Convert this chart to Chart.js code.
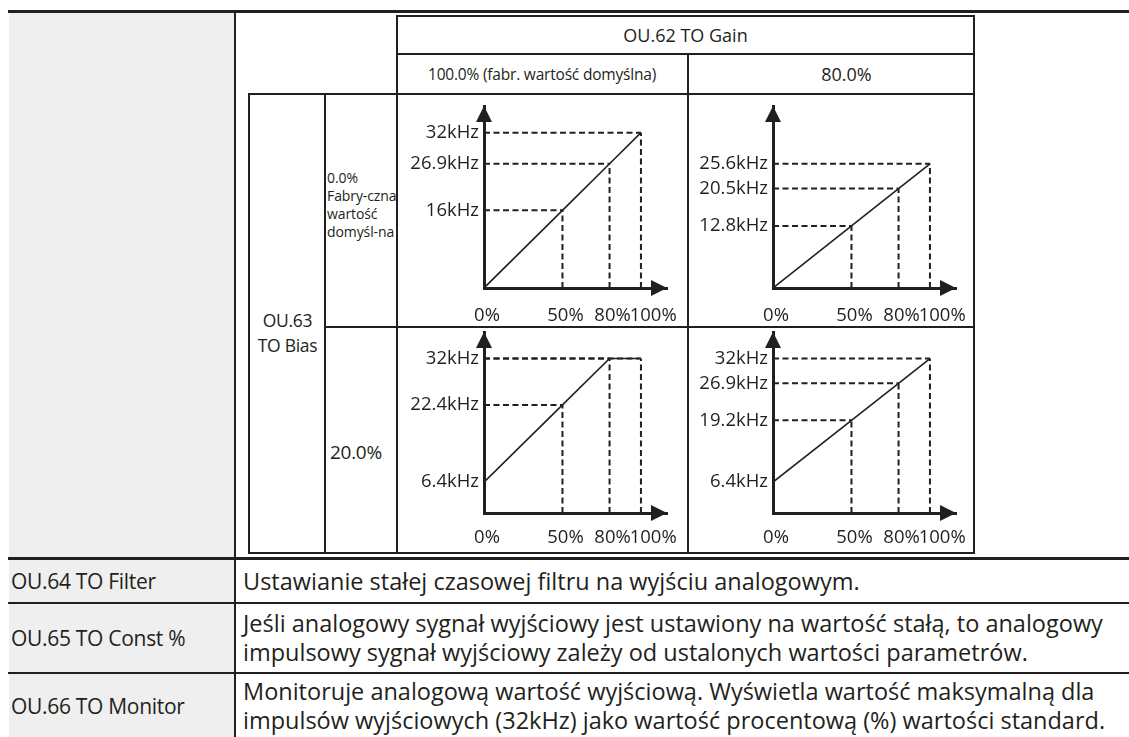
<!DOCTYPE html>
<html>
<head>
<meta charset="utf-8">
<script src="https://cdn.jsdelivr.net/npm/chart.js@4.4.0/dist/chart.umd.min.js"></script>
<style>
  body { margin: 0; width: 1129px; height: 737px; overflow: hidden; background: #fff;
         font-family: "Open Sans", sans-serif; color: #231f20; position: relative; }
  .ln { position: absolute; background: #231f20; }
  .box { position: absolute; box-sizing: border-box; border: 2px solid #231f20; }
  .cell { position: absolute; box-sizing: border-box; display: flex; align-items: center; white-space: nowrap; }
  .center { justify-content: center; text-align: center; }
  .lbl { font-size: 21px; letter-spacing: -0.3px; }
  .txt { font-size: 23.5px; line-height: 29px; }
  canvas { position: absolute; }
</style>
</head>
<body>
<!-- grey label column -->
<div style="position:absolute;left:9px;top:12px;width:226px;height:725px;background:#efefef"></div>

<!-- outer table rules -->
<div class="ln" style="left:8px;top:10px;width:1121px;height:3px"></div>
<div class="ln" style="left:234px;top:12px;width:2px;height:725px"></div>
<div class="ln" style="left:8px;top:557px;width:1121px;height:3px"></div>
<div class="ln" style="left:8px;top:602px;width:1121px;height:2px"></div>
<div class="ln" style="left:8px;top:672px;width:1121px;height:2px"></div>

<!-- inner table -->
<div class="box" style="left:396px;top:15px;width:579px;height:80px"></div>
<div class="ln" style="left:396px;top:53px;width:579px;height:2px"></div>
<div class="box" style="left:248px;top:93px;width:727px;height:461px"></div>
<div class="ln" style="left:324px;top:94px;width:2px;height:459px"></div>
<div class="ln" style="left:396px;top:94px;width:2px;height:459px"></div>
<div class="ln" style="left:687px;top:54px;width:2px;height:499px"></div>
<div class="ln" style="left:325px;top:326px;width:650px;height:2px"></div>

<div class="cell center" style="left:396px;top:15px;width:579px;height:39px;font-size:18px">OU.62 TO Gain</div>
<div class="cell center" style="left:396px;top:54px;width:292px;height:40px;font-size:15.5px;letter-spacing:-0.2px">100.0% (fabr. wartość domyślna)</div>
<div class="cell center" style="left:688px;top:54px;width:287px;height:40px;font-size:18px;padding-left:30px">80.0%</div>
<div class="cell center" style="left:250px;top:94px;width:75px;height:459px;font-size:17.5px;line-height:25px;padding-top:18px;letter-spacing:-0.3px">OU.63<br>TO Bias</div>
<div class="cell" style="left:327px;top:94px;width:69px;height:233px;font-size:14px;line-height:18px;padding-bottom:12px;letter-spacing:-0.1px">0.0%<br>Fabry-czna<br>wartość<br>domyśl-na</div>
<div class="cell" style="left:330px;top:327px;width:66px;height:226px;font-size:19px;padding-top:24px;letter-spacing:-0.3px">20.0%</div>

<canvas id="chartA" width="290" height="231" style="left:397px;top:95px"></canvas>
<canvas id="chartB" width="284" height="231" style="left:690px;top:95px"></canvas>
<canvas id="chartC" width="290" height="223" style="left:397px;top:329px"></canvas>
<canvas id="chartD" width="284" height="223" style="left:690px;top:329px"></canvas>

<!-- lower rows -->
<div class="cell lbl" style="left:11px;top:560px;width:220px;height:42px">OU.64 TO Filter</div>
<div class="cell txt" style="left:243px;top:560px;width:880px;height:42px">Ustawianie stałej czasowej filtru na wyjściu analogowym.</div>
<div class="cell lbl" style="left:11px;top:604px;width:220px;height:68px">OU.65 TO Const %</div>
<div class="cell txt" style="left:243px;top:604px;width:885px;height:68px">Jeśli analogowy sygnał wyjściowy jest ustawiony na wartość stałą, to analogowy<br>impulsowy sygnał wyjściowy zależy od ustalonych wartości parametrów.</div>
<div class="cell lbl" style="left:11px;top:674px;width:220px;height:63px">OU.66 TO Monitor</div>
<div class="cell txt" style="left:243px;top:674px;width:885px;height:63px">Monitoruje analogową wartość wyjściową. Wyświetla wartość maksymalną dla<br>impulsów wyjściowych (32kHz) jako wartość procentową (%) wartości standard.</div>

<script>
const pctTicks = [0, 50, 80, 100];
const xTickLabels = ['0%', '50%', '80%', '100%'];

// output frequency in kHz at 0 / 50 / 80 / 100 % input
const outGain100Bias0 = [0, 16, 25.6, 32];
const outGain80Bias0 = [0, 12.8, 20.48, 25.6];
const outGain100Bias20 = [6.4, 22.4, 32, 32];
const outGain80Bias20 = [6.4, 19.2, 26.88, 32];

// y ticks and the labels printed next to them
const yTicksA = [16, 25.6, 32];
const yLabelsA = ['16kHz', '26.9kHz', '32kHz'];
const yTicksB = [12.8, 20.48, 25.6];
const yLabelsB = ['12.8kHz', '20.5kHz', '25.6kHz'];
const yTicksC = [6.4, 22.4, 32];
const yLabelsC = ['6.4kHz', '22.4kHz', '32kHz'];
const yTicksD = [6.4, 19.2, 26.88, 32];
const yLabelsD = ['6.4kHz', '19.2kHz', '26.9kHz', '32kHz'];

const INK = '#231f20';
const X_MAX = 116.6;
const Y_MAX = 37.5;

const arrowHeads = {
  id: 'arrowHeads',
  afterDraw(chart) {
    const { ctx, chartArea: a } = chart;
    ctx.save();
    ctx.fillStyle = INK;
    ctx.beginPath();
    ctx.moveTo(a.left, a.top);
    ctx.lineTo(a.left - 8, a.top + 16);
    ctx.lineTo(a.left + 8, a.top + 16);
    ctx.closePath();
    ctx.fill();
    ctx.beginPath();
    ctx.moveTo(a.right, a.bottom);
    ctx.lineTo(a.right - 16, a.bottom - 8);
    ctx.lineTo(a.right - 16, a.bottom + 8);
    ctx.closePath();
    ctx.fill();
    ctx.restore();
  }
};

function dashed(points) {
  return { data: points, borderColor: INK, borderWidth: 2, borderDash: [6, 3.5],
           pointRadius: 0, showLine: true, fill: false };
}

function buildDatasets(out) {
  const sets = [{
    data: pctTicks.map((p, i) => ({ x: p, y: out[i] })),
    borderColor: INK, borderWidth: 1.6, pointRadius: 0, showLine: true, fill: false
  }];
  for (let i = 1; i < pctTicks.length; i++) {
    sets.push(dashed([{ x: 0, y: out[i] }, { x: pctTicks[i], y: out[i] }]));
    sets.push(dashed([{ x: pctTicks[i], y: 0 }, { x: pctTicks[i], y: out[i] }]));
  }
  return sets;
}

// the last label sits right of its tick in the original, so pad it on the left
function xLabel(i) {
  return i === pctTicks.length - 1 ? '\u2002\u2002' + xTickLabels[i] : xTickLabels[i];
}

function makeChart(id, out, yTicks, yLabels, box) {
  const tickFont = { family: 'Open Sans', size: 18.5 };
  return new Chart(document.getElementById(id), {
    type: 'scatter',
    data: { datasets: buildDatasets(out) },
    options: {
      responsive: false,
      animation: false,
      layout: { padding: { top: box.top, right: box.right, left: 0, bottom: 0 } },
      plugins: { legend: { display: false }, tooltip: { enabled: false } },
      scales: {
        x: {
          type: 'linear', position: 'bottom', min: 0, max: X_MAX,
          grid: { display: false, drawTicks: false },
          border: { display: true, width: 3, color: INK },
          afterBuildTicks: ax => { ax.ticks = pctTicks.map(v => ({ value: v })); },
          afterFit: ax => { ax.height = box.bottom; ax.paddingLeft = 0; ax.paddingRight = 0; },
          ticks: { autoSkip: false, maxRotation: 0, padding: box.xPad, labelOffset: 3,
                   color: INK, font: tickFont, callback: (v, i) => xLabel(i) }
        },
        y: {
          type: 'linear', min: 0, max: Y_MAX,
          grid: { display: false, drawTicks: false },
          border: { display: true, width: 3, color: INK },
          afterBuildTicks: ax => { ax.ticks = yTicks.map(v => ({ value: v })); },
          afterFit: ax => { ax.width = box.left; ax.paddingTop = 0; ax.paddingBottom = 0; },
          ticks: { autoSkip: false, padding: 5, color: INK, font: tickFont,
                   callback: (v, i) => yLabels[i] }
        }
      }
    },
    plugins: [arrowHeads]
  });
}

makeChart('chartA', outGain100Bias0, yTicksA, yLabelsA, { left: 87, top: 11, right: 20, bottom: 38, xPad: 17 });
makeChart('chartB', outGain80Bias0, yTicksB, yLabelsB, { left: 83, top: 11, right: 18, bottom: 38, xPad: 17 });
makeChart('chartC', outGain100Bias20, yTicksC, yLabelsC, { left: 87, top: 3, right: 20, bottom: 39, xPad: 14 });
makeChart('chartD', outGain80Bias20, yTicksD, yLabelsD, { left: 83, top: 3, right: 18, bottom: 39, xPad: 14 });
</script>
</body>
</html>
